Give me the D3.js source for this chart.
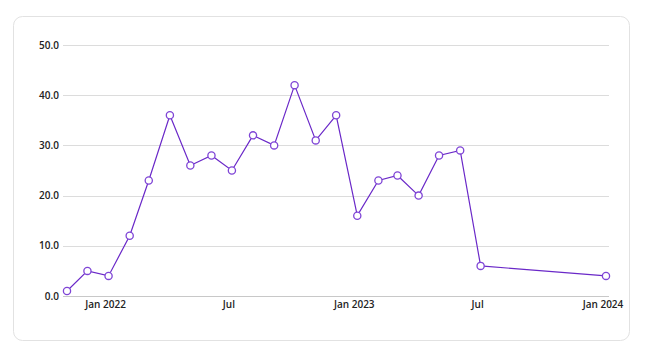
<!DOCTYPE html>
<html><head><meta charset="utf-8">
<script src="https://cdn.jsdelivr.net/npm/d3@7"></script>
<style>
html,body{margin:0;padding:0;background:#fff;}
svg{display:block;font-family:"Open Sans","Noto Sans",sans-serif;}
</style></head>
<body>
<svg id="chart" width="665" height="358"></svg>
<script>
const dates = ["2021-11-01","2021-12-01","2022-01-01","2022-02-01","2022-03-01","2022-04-01","2022-05-01","2022-06-01","2022-07-01","2022-08-01","2022-09-01","2022-10-01","2022-11-01","2022-12-01","2023-01-01","2023-02-01","2023-03-01","2023-04-01","2023-05-01","2023-06-01","2023-07-01","2024-01-01"];
const values = [1,5,4,12,23,36,26,28,25,32,30,42,31,36,16,23,24,20,28,29,6,4];
const yTicks = [0,10,20,30,40,50];
const xTickDates = ["2022-01-01","2022-07-01","2023-01-01","2023-07-01","2024-01-01"];
const xTickLabels = ["Jan 2022","Jul","Jan 2023","Jul","Jan 2024"];

const parse = d3.utcParse("%Y-%m-%d");
const data = dates.map((d,i)=>({date:parse(d), value:values[i]}));
const svg = d3.select("#chart");

svg.append("rect").attr("x",13.5).attr("y",16.5).attr("width",616).attr("height",324)
  .attr("rx",9).attr("fill","#fff").attr("stroke","#e2e2e2");

const x = d3.scaleUtc().domain(d3.extent(data,d=>d.date)).range([67,606]);
const y = d3.scaleLinear().domain([0,50]).range([296,45]);
const gx0 = 63, gx1 = 609;

const grid = svg.append("g");
grid.selectAll("line").data(yTicks).join("line")
  .attr("x1",gx0).attr("x2",gx1)
  .attr("y1",d=>Math.round(y(d))+0.5).attr("y2",d=>Math.round(y(d))+0.5)
  .attr("stroke",d=>d===0?"#c8c8c8":"#dcdcdc").attr("stroke-width",1);

svg.append("g").selectAll("text").data(yTicks).join("text")
  .attr("x",59).attr("y",d=>y(d)).attr("dy","0.35em")
  .attr("text-anchor","end").attr("font-size",10).attr("font-weight",600).attr("fill","#222")
  .text(d=>d3.format(".1f")(d));

svg.append("g").selectAll("text").data(xTickDates).join("text")
  .attr("x",d=>x(parse(d))-3).attr("y",308)
  .attr("text-anchor","middle").attr("font-size",10).attr("font-weight",600).attr("fill","#222")
  .text((d,i)=>xTickLabels[i]);

const line = d3.line().x(d=>x(d.date)).y(d=>y(d.value));
svg.append("path").datum(data).attr("d",line).attr("fill","none")
  .attr("stroke","#6a28c8").attr("stroke-width",1.2);

svg.append("g").selectAll("circle").data(data).join("circle")
  .attr("cx",d=>x(d.date)).attr("cy",d=>y(d.value)).attr("r",3.6)
  .attr("fill","#fff").attr("stroke","#7f45d6").attr("stroke-width",1.3);
</script>
</body></html>
